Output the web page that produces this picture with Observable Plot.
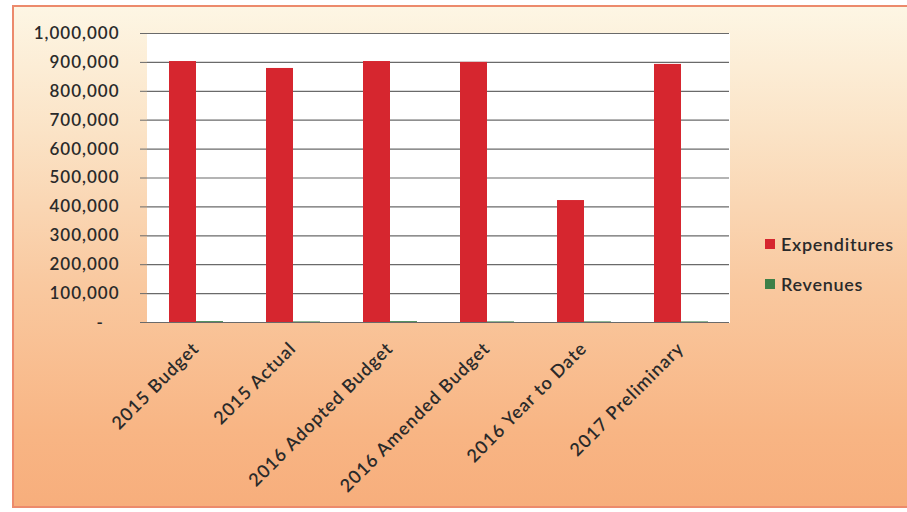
<!DOCTYPE html>
<html>
<head>
<meta charset="utf-8">
<script src="https://cdn.jsdelivr.net/npm/d3@7"></script>
<script src="https://cdn.jsdelivr.net/npm/@observablehq/plot@0.6"></script>
<style>
  html, body { margin: 0; padding: 0; background: #ffffff; }
  #wrap { position: relative; width: 907px; height: 512px; overflow: hidden; background: #ffffff; }
  #bg { position: absolute; left: 12px; top: 5px; width: 910px; height: 503px;
        border: 2px solid #ec8a6c; box-sizing: border-box;
        background: linear-gradient(to bottom, #fdf6e4 0%, #fbe3c6 25%, #f9c9a0 55%, #f8b584 85%, #f7ae7c 100%); }
  #chart { position: absolute; left: 0; top: 0; }
  #legend { position: absolute; left: 765px; top: 233px; font-family: Lato, "Open Sans", sans-serif;
            font-size: 18px; letter-spacing: 0.7px; color: #2a2a2a; font-weight: 600; }
  .item { display: flex; align-items: center; height: 22px; margin-bottom: 18px; }
  .sw { width: 10px; height: 10px; margin-right: 6px; }
</style>
</head>
<body>
<div id="wrap">
  <div id="bg"></div>
  <div id="chart"></div>
  <div id="legend"></div>
</div>
<script>
const categories = ["2015 Budget", "2015 Actual", "2016 Adopted Budget", "2016 Amended Budget", "2016 Year to Date", "2017 Preliminary"];
const series = ["Expenditures", "Revenues"];
const expenditures = [903000, 879000, 903000, 900000, 422000, 893000];
const revenues = [3000, 2000, 3000, 2000, 2000, 2000];
const yTicks = [0, 100000, 200000, 300000, 400000, 500000, 600000, 700000, 800000, 900000, 1000000];
const colors = ["#d6262f", "#3d8048"];

const data = [];
categories.forEach((c, i) => {
  data.push({category: c, series: series[0], value: expenditures[i]});
  data.push({category: c, series: series[1], value: revenues[i]});
});

const fmt = d3.format(",");
const chart = Plot.plot({
  width: 907,
  height: 512,
  marginLeft: 144,
  marginRight: 176,
  marginTop: 33,
  marginBottom: 190,
  style: {background: "transparent", fontFamily: "Lato, 'Open Sans', sans-serif", fontSize: "17px", color: "#2a2a2a", letterSpacing: "1px"},
  fx: {domain: categories, padding: 0, label: null},
  x: {domain: series, paddingInner: 0, paddingOuter: 0.75, axis: null},
  y: {domain: [0, 1000000], label: null},
  color: {domain: series, range: colors},
  marks: [
    Plot.frame({fill: "white", stroke: "white", strokeWidth: 1}),
    Plot.gridY(yTicks, {stroke: "#6a6a6a", strokeOpacity: 1, strokeWidth: 1.2}),
    Plot.barY(data, {fx: "category", x: "series", y: "value", fill: "series"}),
    Plot.ruleY([0], {stroke: "#6a6a6a", strokeWidth: 1.2}),
    Plot.axisY(yTicks, {
      tickSize: 7, tickPadding: 21, line: true, stroke: "#6a6a6a",
      fontSize: 17, fontWeight: 600, fill: "#2a2a2a",
      tickFormat: d => d === 0 ? "-\u00a0\u00a0\u00a0" : fmt(d)
    }),
    Plot.axisFx({
      anchor: "bottom",
      tickRotate: -45, tickSize: 0, tickPadding: 23, fontSize: 18, fontWeight: 600,
      fill: "#2a2a2a", label: null
    })
  ]
});
document.getElementById("chart").appendChild(chart);

const legend = document.getElementById("legend");
series.forEach((s, i) => {
  const item = document.createElement("div");
  item.className = "item";
  const sw = document.createElement("span");
  sw.className = "sw";
  sw.style.background = colors[i];
  const t = document.createElement("span");
  t.textContent = s;
  item.appendChild(sw);
  item.appendChild(t);
  legend.appendChild(item);
});
</script>
</body>
</html>
